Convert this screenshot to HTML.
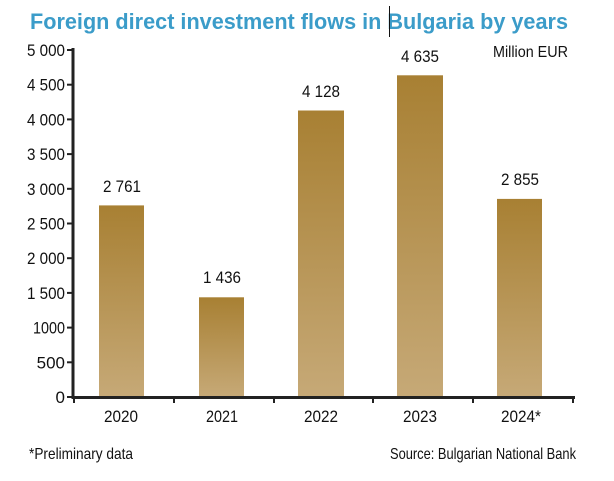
<!DOCTYPE html>
<html><head><meta charset="utf-8"><style>
html,body{margin:0;padding:0;background:#fff;}
svg{display:block;font-family:"Liberation Sans",sans-serif;}
</style></head><body>
<svg width="614" height="481" viewBox="0 0 614 481" xmlns="http://www.w3.org/2000/svg">
<defs>
<linearGradient id="g" x1="0" y1="0" x2="0" y2="1">
<stop offset="0" stop-color="#a88033"/>
<stop offset="1" stop-color="#c6a977"/>
</linearGradient>
</defs>
<text x="30" y="29" font-weight="bold" font-size="22" fill="#3b9cc9" textLength="538" lengthAdjust="spacingAndGlyphs">Foreign direct investment flows in Bulgaria by years</text>
<line x1="389.5" y1="6" x2="389.5" y2="37" stroke="#111" stroke-width="1"/>
<text x="568" y="57" font-size="16" fill="#111" text-anchor="end" textLength="75" lengthAdjust="spacingAndGlyphs">Million EUR</text>
<g fill="url(#g)">
<rect x="99" y="205.4" width="45" height="191.6"/>
<rect x="199" y="297.3" width="45" height="99.7"/>
<rect x="298" y="110.5" width="46" height="286.5"/>
<rect x="397" y="75.3" width="46" height="321.7"/>
<rect x="497" y="198.9" width="45" height="198.1"/>
</g>
<g font-size="17" fill="#111" text-anchor="middle">
<text x="122" y="192" textLength="38" lengthAdjust="spacingAndGlyphs">2 761</text>
<text x="222" y="283" textLength="38" lengthAdjust="spacingAndGlyphs">1 436</text>
<text x="321" y="97" textLength="38" lengthAdjust="spacingAndGlyphs">4 128</text>
<text x="420" y="62" textLength="38" lengthAdjust="spacingAndGlyphs">4 635</text>
<text x="520" y="185" textLength="38" lengthAdjust="spacingAndGlyphs">2 855</text>
</g>
<g stroke="#222" stroke-width="3">
<line x1="73" y1="48" x2="73" y2="399"/>
<line x1="71.5" y1="397.5" x2="575" y2="397.5"/>
</g>
<g stroke="#222" stroke-width="2">
<line x1="67" y1="50" x2="73" y2="50"/>
<line x1="67" y1="84.7" x2="73" y2="84.7"/>
<line x1="67" y1="119.4" x2="73" y2="119.4"/>
<line x1="67" y1="154.1" x2="73" y2="154.1"/>
<line x1="67" y1="188.8" x2="73" y2="188.8"/>
<line x1="67" y1="223.5" x2="73" y2="223.5"/>
<line x1="67" y1="258.2" x2="73" y2="258.2"/>
<line x1="67" y1="292.9" x2="73" y2="292.9"/>
<line x1="67" y1="327.6" x2="73" y2="327.6"/>
<line x1="67" y1="362.3" x2="73" y2="362.3"/>
<line x1="67" y1="397" x2="73" y2="397"/>
<line x1="74" y1="397" x2="74" y2="403"/>
<line x1="174" y1="397" x2="174" y2="403"/>
<line x1="274" y1="397" x2="274" y2="403"/>
<line x1="373" y1="397" x2="373" y2="403"/>
<line x1="473" y1="397" x2="473" y2="403"/>
<line x1="573" y1="397" x2="573" y2="403"/>
</g>
<g font-size="17" fill="#111" text-anchor="end">
<text x="65" y="56" textLength="38" lengthAdjust="spacingAndGlyphs">5 000</text>
<text x="65" y="90.7" textLength="38" lengthAdjust="spacingAndGlyphs">4 500</text>
<text x="65" y="125.4" textLength="38" lengthAdjust="spacingAndGlyphs">4 000</text>
<text x="65" y="160.1" textLength="38" lengthAdjust="spacingAndGlyphs">3 500</text>
<text x="65" y="194.8" textLength="38" lengthAdjust="spacingAndGlyphs">3 000</text>
<text x="65" y="229.5" textLength="38" lengthAdjust="spacingAndGlyphs">2 500</text>
<text x="65" y="264.2" textLength="38" lengthAdjust="spacingAndGlyphs">2 000</text>
<text x="65" y="298.9" textLength="38" lengthAdjust="spacingAndGlyphs">1 500</text>
<text x="65" y="333.6" textLength="32" lengthAdjust="spacingAndGlyphs">1000</text>
<text x="65" y="368.3">500</text>
<text x="65" y="403">0</text>
</g>
<g font-size="17" fill="#111" text-anchor="middle">
<text x="121" y="422" textLength="34" lengthAdjust="spacingAndGlyphs">2020</text>
<text x="222" y="422" textLength="32" lengthAdjust="spacingAndGlyphs">2021</text>
<text x="321" y="422" textLength="34" lengthAdjust="spacingAndGlyphs">2022</text>
<text x="420" y="422" textLength="34" lengthAdjust="spacingAndGlyphs">2023</text>
<text x="521" y="422" textLength="40" lengthAdjust="spacingAndGlyphs">2024*</text>
</g>
<text x="29" y="459" font-size="16" fill="#111" textLength="104" lengthAdjust="spacingAndGlyphs">*Preliminary data</text>
<text x="576" y="459" font-size="16" fill="#111" text-anchor="end" textLength="186" lengthAdjust="spacingAndGlyphs">Source: Bulgarian National Bank</text>
</svg>
</body></html>
